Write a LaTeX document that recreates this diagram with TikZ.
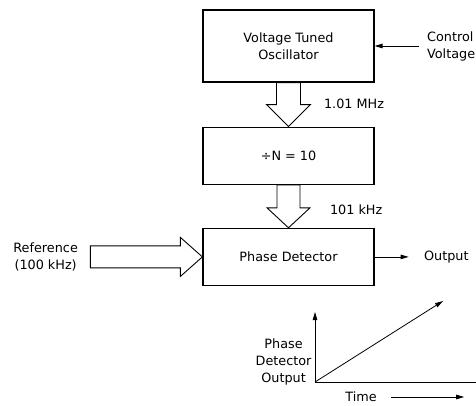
\documentclass[tikz,border=0pt]{standalone}
\usepackage{fontspec}
\setmainfont{DejaVu Sans}
\usetikzlibrary{positioning,calc,arrows.meta}

% hollow block arrow: start, tip, shaft half width, head half width, head length
\newcommand{\fatarrow}[5]{%
  \coordinate (fa-head) at ($(#2)!#5!(#1)$);
  \draw[fat] ($(#1)!#3!90:(#2)$) -- ($(fa-head)!#3!90:(#2)$) -- ($(fa-head)!#4!90:(#2)$)
    -- (#2) -- ($(fa-head)!#4!-90:(#2)$) -- ($(fa-head)!#3!-90:(#2)$) -- ($(#1)!#3!-90:(#2)$) -- cycle;}

\begin{document}
\begin{tikzpicture}[x=1pt, y=1pt,
    box/.style={rectangle, draw, line width=1.2pt, minimum width=171pt, align=center, font=\fontsize{12.8}{17}\selectfont},
    lbl/.style={font=\fontsize{12.8}{17}\selectfont, align=center},
    arrow/.style={-{Triangle[length=8pt,width=4.5pt]}, line width=0.8pt},
    fat/.style={line width=0.9pt, line join=miter}
]
\useasboundingbox (0,0) rectangle (476,405);

% Main chain
\node[box, minimum height=72pt] (vto) at (288.5,359) {Voltage Tuned\\Oscillator};
\node[box, minimum height=57pt, below=44pt of vto] (divn) {÷N = 10};
\node[box, minimum height=57pt, below=43pt of divn] (pd) {Phase Detector};

% Side inputs and output
\node[lbl, align=left, right=49pt of vto] (ctrl) {Control\\Voltage};
\node[lbl, right=46pt of pd] (out) {Output};
\coordinate (reftail) at ($(pd.west)+(-112pt,0)$);
\node[lbl, left=9pt of reftail] (ref) {Reference\\(100 kHz)};

% Arrows
\draw[arrow, shorten <=5pt] (ctrl) -- (vto);
\draw[arrow, shorten >=12pt] (pd) -- (out);
\fatarrow{vto.south}{divn.north}{12pt}{22pt}{22pt}
\fatarrow{divn.south}{pd.north}{11.5pt}{21.5pt}{20pt}
\fatarrow{reftail}{pd.west}{11pt}{19.5pt}{22pt}

% Frequencies
\node[lbl, anchor=west] (f1) at ($(vto.south)+(32pt,-21pt)$) {1.01 MHz};
\node[lbl, anchor=west] (f2) at ($(divn.south)+(38pt,-25pt)$) {101 kHz};

% Output graph
\coordinate (origin) at (315,23);
\coordinate (ytop) at (315,93);
\coordinate (xend) at (476,23);
\coordinate (rampend) at (443,104);
\draw[arrow] (origin) -- (ytop);
\draw[line width=0.8pt] (origin) -- (xend);
\draw[arrow] (origin) -- (rampend);
\node[lbl, anchor=south east] (ylab) at ($(origin)+(0,-7pt)$) {Phase\\Detector\\Output};
\node[lbl] (time) at ($(origin)+(46pt,-15pt)$) {Time};
\coordinate (timeend) at ($(time.east)+(84pt,0)$);
\draw[arrow, shorten <=11pt] (time) -- (timeend);

\end{tikzpicture}
\end{document}
